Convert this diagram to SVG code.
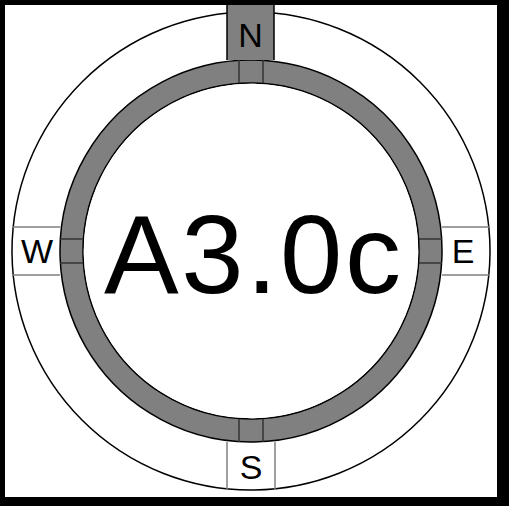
<svg xmlns="http://www.w3.org/2000/svg" width="519" height="506" viewBox="0 0 519 506">
<style>
.lbl{font-family:"Liberation Sans",Arial,sans-serif;fill:#000;text-anchor:middle}
.div{stroke:#333;stroke-width:1.5;fill:none}
</style>
<rect width="519" height="506" fill="#fff"/>
<g id="outer">
<circle cx="251" cy="251" r="239" fill="#fff" stroke="#000" stroke-width="1.5"/>
</g>
<g id="ring">
<path d="M251 60a191 191 0 1 0 0.001 0ZM251 83a168 168 0 1 1 -0.001 0Z" fill="#808080" fill-rule="evenodd" stroke="#000" stroke-width="1.5"/>
<circle cx="251" cy="251" r="167.2" fill="#fff"/>
</g>
<g id="connectors">
<path class="div" d="M239 60V83M263 60V83M239 419V442M263 419V442M60 239H83M60 263H83M419 239H442M419 263H442"/>
</g>
<g id="node-N">
<rect x="227" y="0" width="47" height="60" fill="#808080"/>
<path d="M227 0V60M274 0V60" stroke="#000" stroke-width="1.5"/>
<text class="lbl" x="250.5" y="47" font-size="34">N</text>
</g>
<g id="node-S">
<path d="M227 442V490M275 442V490" stroke="#808080" stroke-width="1.5"/>
<text class="lbl" x="251" y="479" font-size="34">S</text>
</g>
<g id="node-W">
<path d="M12 227H60M12 275H60" stroke="#808080" stroke-width="1.5"/>
<text class="lbl" x="37" y="263" font-size="34">W</text>
</g>
<g id="node-E">
<path d="M442 227H490M442 275H490" stroke="#808080" stroke-width="1.5"/>
<text class="lbl" x="463" y="263" font-size="34">E</text>
</g>
<g id="title">
<text class="lbl" x="252.5" y="293" font-size="112" textLength="297" lengthAdjust="spacing">A3.0c</text>
</g>
<path d="M0 0H509V506H0ZM5 5V497H497V5Z" fill="#000" fill-rule="evenodd"/>
</svg>
